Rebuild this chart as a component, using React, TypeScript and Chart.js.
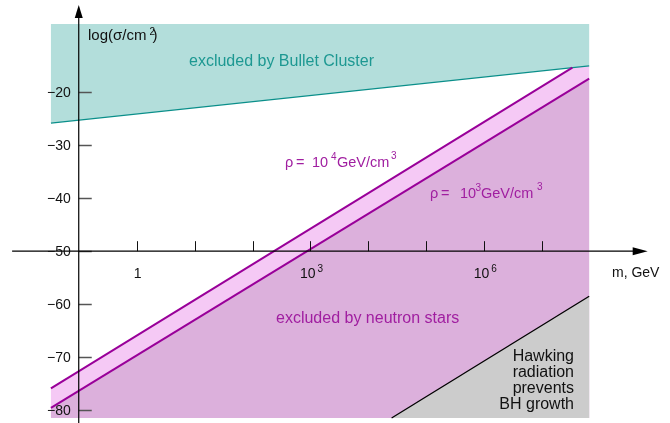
import React, { useEffect, useRef } from "react";
import { Chart, registerables } from "chart.js";

Chart.register(...registerables);

// x: log10(m / GeV)
const massTicks = [0, 1, 2, 3, 4, 5, 6, 7];
const massLabelAt = [0, 3, 6];
const massLabelBase = ["1", "10", "10"];
const massLabelExp = ["", "3", "6"];
// y: log10(sigma / cm^2)
const sigmaTicks = [-20, -30, -40, -50, -60, -70, -80];

// shaded regions / boundary lines
const regionX = [-1.48, 7.81];
const regionTop = -7.1;
const regionBottom = -81.5;
const bulletEdgeY = [-25.8, -15.0];
const rho3Y = [-79.6, -17.4];
const rho4X = [-1.48, 7.52];
const rho4Y = [-75.9, -15.35];
const hawkingX = [4.4, 7.81];
const hawkingY = [-81.5, -58.5];

// axes
const axisCrossX = -1;
const axisCrossY = -50;
const xAxisStart = -2.15;
const xAxisEnd = 8.82;
const yAxisEnd = -3.5;

const X_MIN = -2.359;
const X_MAX = 9.205;
const Y_MIN = -82.45;
const Y_MAX = -2.56;

const FONT = '"Liberation Sans", Arial, Helvetica, sans-serif';
const PURPLE_TEXT = "#a01ea0";
const PURPLE_LINE = "#990099";

const pts = (xs: number[], ys: number[]) => xs.map((x, i) => ({ x, y: ys[i] }));

function drawSupLabel(
  ctx: CanvasRenderingContext2D,
  base: string,
  exp: string,
  cx: number,
  baseline: number,
  size: number,
  supSize: number,
  gap: number
) {
  ctx.font = `${size}px ${FONT}`;
  const wb = ctx.measureText(base).width;
  ctx.font = `${supSize}px ${FONT}`;
  const we = exp ? ctx.measureText(exp).width + gap : 0;
  const start = cx - (wb + we) / 2;
  ctx.textAlign = "left";
  ctx.textBaseline = "alphabetic";
  ctx.font = `${size}px ${FONT}`;
  ctx.fillText(base, start, baseline);
  if (exp) {
    ctx.font = `${supSize}px ${FONT}`;
    ctx.fillText(exp, start + wb + gap, baseline - 6);
  }
}

const overlayPlugin = {
  id: "physOverlay",
  afterDatasetsDraw(chart: any) {
    const ctx: CanvasRenderingContext2D = chart.ctx;
    const xs = chart.scales.x;
    const ys = chart.scales.y;
    const px = (v: number) => xs.getPixelForValue(v);
    const py = (v: number) => ys.getPixelForValue(v);
    ctx.save();

    const ax = px(axisCrossX);
    const ay = py(axisCrossY);

    // y ticks
    ctx.strokeStyle = "#555";
    ctx.lineWidth = 1.5;
    for (const t of sigmaTicks) {
      const y = Math.round(py(t)) + 0.5;
      ctx.beginPath();
      ctx.moveTo(ax, y);
      ctx.lineTo(ax + 13, y);
      ctx.stroke();
    }
    // x ticks
    ctx.strokeStyle = "#111";
    ctx.lineWidth = 1;
    for (const t of massTicks) {
      const x = Math.round(px(t)) + 0.5;
      ctx.beginPath();
      ctx.moveTo(x, ay);
      ctx.lineTo(x, ay - 10);
      ctx.stroke();
    }

    // axes lines
    ctx.strokeStyle = "#000";
    ctx.lineWidth = 1.2;
    const yTip = py(yAxisEnd);
    ctx.beginPath();
    ctx.moveTo(ax, chart.height);
    ctx.lineTo(ax, yTip + 8);
    ctx.stroke();
    const xTip = px(xAxisEnd);
    ctx.beginPath();
    ctx.moveTo(px(xAxisStart), ay);
    ctx.lineTo(xTip - 8, ay);
    ctx.stroke();
    // arrow heads
    ctx.fillStyle = "#000";
    ctx.beginPath();
    ctx.moveTo(ax, yTip);
    ctx.lineTo(ax - 4, yTip + 13);
    ctx.lineTo(ax + 4, yTip + 13);
    ctx.closePath();
    ctx.fill();
    ctx.beginPath();
    ctx.moveTo(xTip, ay);
    ctx.lineTo(xTip - 15, ay - 4);
    ctx.lineTo(xTip - 15, ay + 4);
    ctx.closePath();
    ctx.fill();

    // y tick labels
    ctx.fillStyle = "#111";
    ctx.font = `14px ${FONT}`;
    ctx.textAlign = "right";
    ctx.textBaseline = "middle";
    for (const t of sigmaTicks) {
      ctx.fillText("\u2212" + Math.abs(t), ax - 8, py(t) + 1);
    }
    // x tick labels
    massLabelAt.forEach((v, i) => {
      drawSupLabel(ctx, massLabelBase[i], massLabelExp[i], px(v) + 1, ay + 27, 14, 10, 2);
    });

    // axis titles
    ctx.textAlign = "left";
    ctx.textBaseline = "alphabetic";
    ctx.font = `14px ${FONT}`;
    ctx.fillText("m, GeV", 612, ay + 26);
    ctx.font = `15px ${FONT}`;
    const lt = "log(\u03C3/cm";
    ctx.fillText(lt, 88, 40);
    const wl = ctx.measureText(lt).width;
    ctx.font = `10px ${FONT}`;
    ctx.fillText("2", 88 + wl + 3, 35);
    ctx.font = `15px ${FONT}`;
    ctx.fillText(")", 88 + wl + 6, 40);

    // region labels
    ctx.font = `16px ${FONT}`;
    ctx.fillStyle = "#1d9892";
    ctx.fillText("excluded by Bullet Cluster", 189, 66);
    ctx.fillStyle = PURPLE_TEXT;
    ctx.fillText("excluded by neutron stars", 276, 323);

    // rho labels: segment x positions [rho, =, 10, exp, GeV/cm, 3]
    const rhoLabel = (base: number, e: string, p: number[]) => {
      ctx.font = `14.5px ${FONT}`;
      ctx.fillText("\u03C1", p[0], base);
      ctx.fillText("=", p[1], base);
      ctx.fillText("10", p[2], base);
      ctx.fillText("GeV/cm", p[4], base);
      ctx.font = `10px ${FONT}`;
      ctx.fillText(e, p[3], base - 7);
      ctx.fillText("3", p[5], base - 8);
    };
    ctx.fillStyle = PURPLE_TEXT;
    rhoLabel(167, "4", [285, 296, 312, 331, 337, 391]);
    rhoLabel(198, "3", [430, 441, 460, 475.5, 481, 537]);

    // Hawking text
    ctx.fillStyle = "#111";
    ctx.font = `16px ${FONT}`;
    ctx.textAlign = "right";
    const hl = ["Hawking", "radiation", "prevents", "BH growth"];
    hl.forEach((s, i) => ctx.fillText(s, 574, 361 + i * 16));

    ctx.restore();
  },
};

export default function App() {
  const ref = useRef<HTMLCanvasElement | null>(null);
  useEffect(() => {
    if (!ref.current) return;
    const bulletFill = [
      { x: regionX[0], y: regionTop },
      { x: regionX[1], y: regionTop },
      { x: regionX[1], y: bulletEdgeY[1] },
      { x: regionX[0], y: bulletEdgeY[0] },
    ];
    const darkPink = [
      { x: regionX[0], y: rho3Y[0] },
      { x: regionX[1], y: rho3Y[1] },
      { x: regionX[1], y: regionBottom },
      { x: regionX[0], y: regionBottom },
    ];
    const lightPink = [
      { x: rho4X[0], y: rho4Y[0] },
      { x: rho4X[1], y: rho4Y[1] },
      { x: regionX[1], y: bulletEdgeY[1] },
      { x: regionX[1], y: rho3Y[1] },
      { x: regionX[0], y: rho3Y[0] },
    ];
    const grayFill = [
      { x: hawkingX[0], y: hawkingY[0] },
      { x: hawkingX[1], y: hawkingY[1] },
      { x: hawkingX[1], y: regionBottom },
    ];
    const shape = (data: any[], color: string, order: number) => ({
      data,
      showLine: true,
      pointRadius: 0,
      borderWidth: 1,
      borderColor: "rgba(0,0,0,0)",
      backgroundColor: color,
      fill: "shape",
      order,
    });
    const line = (data: any[], color: string, width: number, order: number) => ({
      data,
      showLine: true,
      pointRadius: 0,
      borderWidth: width,
      borderColor: color,
      backgroundColor: color,
      fill: false,
      order,
    });
    const chart = new Chart(ref.current, {
      type: "scatter",
      data: {
        datasets: [
          shape(bulletFill, "#b3dedb", 8),
          shape(darkPink, "#dcb0dc", 7),
          shape(lightPink, "#f5c9f5", 6),
          shape(grayFill, "#cccccc", 5),
          line(pts(regionX, bulletEdgeY), "#0a8f8a", 1.2, 4),
          line(pts(regionX, rho3Y), PURPLE_LINE, 2, 3),
          line(pts(rho4X, rho4Y), PURPLE_LINE, 2, 2),
          line(pts(hawkingX, hawkingY), "#000", 1.3, 1),
        ] as any,
      },
      options: {
        animation: false,
        responsive: false,
        maintainAspectRatio: false,
        layout: { padding: 0 },
        events: [],
        plugins: {
          legend: { display: false },
          tooltip: { enabled: false },
        },
        scales: {
          x: { type: "linear", display: false, min: X_MIN, max: X_MAX },
          y: { type: "linear", display: false, min: Y_MIN, max: Y_MAX },
        },
      } as any,
      plugins: [overlayPlugin],
    });
    return () => chart.destroy();
  }, []);
  return (
    <div style={{ position: "absolute", left: 0, top: 0, width: 670, height: 423, background: "#fff" }}>
      <canvas ref={ref} width={670} height={423} style={{ display: "block" }} />
    </div>
  );
}
